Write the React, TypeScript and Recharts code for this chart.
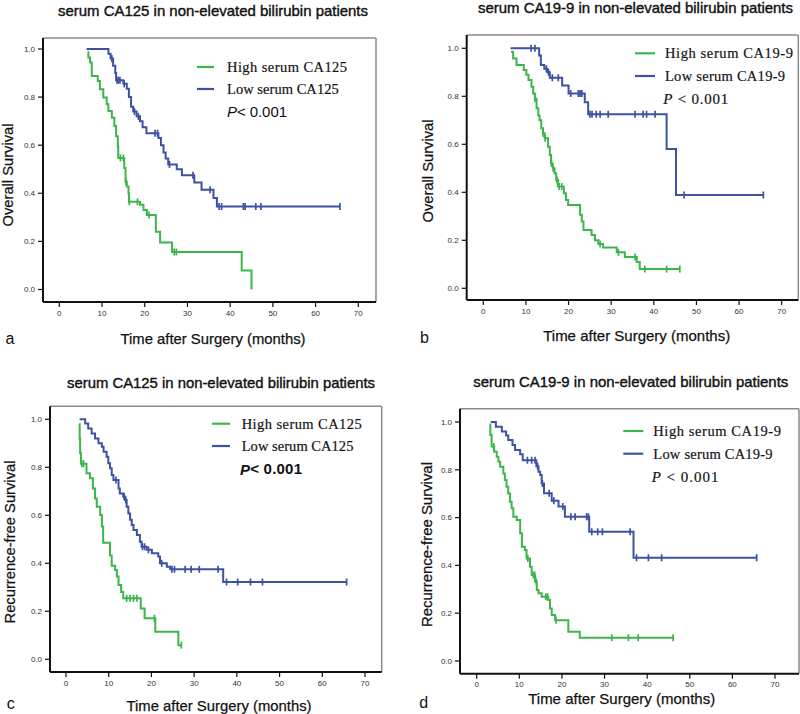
import React from 'react';
import { LineChart, Line, XAxis, YAxis, ReferenceLine } from 'recharts';

const GREEN = '#3cb54a';
const BLUE = '#3d52a2';
const SANS = '"Liberation Sans", Arial, sans-serif';
const SERIF = '"Liberation Serif", "Times New Roman", serif';

const xTicks = [0, 10, 20, 30, 40, 50, 60, 70];
const yTicks = [0, 0.2, 0.4, 0.6, 0.8, 1.0];

// ---- Panel a: overall survival, CA125 ----
const aHighTime = [6.6, 6.8, 7.2, 7.6, 9.0, 9.5, 10.3, 11.1, 11.5, 12.3, 12.9, 13.3, 13.7, 13.8, 15.2, 15.5, 15.8, 16.2, 16.3, 18.9, 19.7, 20.5, 22.6, 23.6, 26.4, 42.7, 45.0];
const aHighSurv = [0.986, 0.965, 0.944, 0.888, 0.867, 0.833, 0.798, 0.77, 0.742, 0.714, 0.68, 0.637, 0.595, 0.547, 0.505, 0.449, 0.428, 0.4, 0.365, 0.352, 0.331, 0.31, 0.24, 0.195, 0.156, 0.079, 0.0];
const aHighCensor = [14.3, 15.0, 15.6, 16.4, 18.3, 21.0, 26.9, 27.4];
const aLowTime = [6.4, 11.5, 12.0, 12.6, 13.1, 13.3, 15.0, 15.8, 16.3, 16.8, 17.3, 18.1, 18.9, 19.5, 20.4, 23.2, 23.8, 24.4, 24.9, 25.5, 27.5, 28.7, 31.6, 33.3, 36.1, 36.9];
const aLowSurv = [1.0, 0.98, 0.96, 0.93, 0.9, 0.87, 0.855, 0.835, 0.8, 0.76, 0.74, 0.72, 0.7, 0.675, 0.65, 0.63, 0.6, 0.57, 0.545, 0.52, 0.5, 0.475, 0.445, 0.415, 0.38, 0.345];
const aLowCensor = [12.3, 13.5, 13.8, 14.2, 15.2, 17.6, 18.5, 22.4, 23.0, 25.8, 31.3, 35.3, 37.4, 38.0, 43.1, 43.5, 46.0, 47.2, 65.7];

// ---- Panel b: overall survival, CA19-9 ----
const bHighTime = [6.5, 7.0, 7.8, 9.5, 10.1, 10.6, 11.3, 11.7, 12.1, 12.5, 12.9, 13.2, 13.6, 14.0, 14.4, 15.2, 15.6, 15.9, 16.3, 16.7, 17.1, 17.5, 18.9, 19.4, 19.9, 22.7, 23.1, 23.5, 25.4, 26.2, 27.0, 28.1, 31.3, 33.2, 36.0, 36.7];
const bHighSurv = [0.986, 0.958, 0.93, 0.91, 0.89, 0.868, 0.84, 0.812, 0.79, 0.75, 0.72, 0.7, 0.667, 0.646, 0.625, 0.59, 0.555, 0.52, 0.5, 0.479, 0.451, 0.424, 0.396, 0.368, 0.347, 0.306, 0.278, 0.243, 0.222, 0.2, 0.185, 0.17, 0.15, 0.13, 0.11, 0.08];
const bHighCensor = [12.1, 14.0, 14.5, 16.0, 16.4, 17.3, 17.8, 18.4, 27.4, 31.7, 35.6, 37.9, 43.0, 46.1];
const bLowTime = [6.4, 13.1, 13.5, 14.3, 15.0, 15.6, 18.5, 20.0, 23.8, 24.6, 43.0, 45.2];
const bLowSurv = [1.0, 0.97, 0.93, 0.915, 0.9, 0.877, 0.845, 0.812, 0.775, 0.725, 0.58, 0.389];
const bLowCensor = [11.2, 12.1, 14.8, 15.3, 16.2, 17.6, 20.5, 22.3, 22.7, 23.1, 25.0, 25.5, 26.5, 27.4, 29.3, 35.6, 37.5, 38.3, 40.3, 47.1, 65.7];

// ---- Panel c: recurrence-free survival, CA125 ----
const cHighTime = [3.1, 3.2, 3.3, 3.5, 4.8, 5.6, 6.3, 6.8, 7.2, 8.0, 8.4, 8.7, 10.3, 10.7, 11.5, 11.9, 12.3, 12.9, 13.4, 17.5, 18.4, 20.9, 26.3];
const cHighSurv = [0.98, 0.92, 0.86, 0.815, 0.775, 0.754, 0.712, 0.67, 0.636, 0.601, 0.553, 0.486, 0.433, 0.39, 0.372, 0.345, 0.31, 0.28, 0.254, 0.212, 0.171, 0.115, 0.059];
const cHighCensor = [3.7, 4.1, 14.2, 15.0, 15.8, 16.6, 20.7, 27.0];
const cLowTime = [3.2, 4.5, 5.2, 6.0, 6.8, 7.6, 8.4, 8.8, 9.5, 9.9, 10.3, 10.7, 11.1, 12.3, 12.6, 13.4, 13.8, 14.2, 14.6, 15.0, 15.4, 15.8, 16.6, 17.3, 17.7, 18.9, 20.1, 21.6, 22.0, 23.6, 24.4, 36.8];
const cLowSurv = [1.0, 0.983, 0.962, 0.941, 0.92, 0.9, 0.886, 0.865, 0.844, 0.817, 0.796, 0.768, 0.747, 0.712, 0.691, 0.678, 0.664, 0.636, 0.608, 0.581, 0.56, 0.539, 0.518, 0.49, 0.469, 0.456, 0.442, 0.428, 0.4, 0.386, 0.375, 0.322];
const cLowCensor = [11.7, 13.6, 14.0, 17.9, 18.4, 19.3, 22.4, 24.8, 25.4, 27.9, 29.3, 31.2, 35.6, 37.6, 40.2, 43.2, 46.0, 65.7];

// ---- Panel d: recurrence-free survival, CA19-9 ----
const dHighTime = [3.0, 3.2, 3.5, 4.1, 4.7, 5.1, 5.5, 6.25, 6.6, 7.0, 7.4, 7.8, 8.2, 8.6, 9.4, 10.2, 10.6, 11.3, 11.7, 12.5, 12.9, 13.7, 14.1, 14.5, 15.25, 16.8, 17.2, 17.6, 18.4, 21.5, 24.2];
const dHighSurv = [0.99, 0.946, 0.897, 0.876, 0.855, 0.834, 0.813, 0.785, 0.757, 0.729, 0.701, 0.666, 0.639, 0.604, 0.59, 0.534, 0.478, 0.464, 0.429, 0.394, 0.36, 0.332, 0.297, 0.283, 0.269, 0.255, 0.22, 0.192, 0.171, 0.122, 0.097];
const dHighCensor = [4.0, 12.0, 13.3, 13.6, 14.0, 16.2, 16.6, 18.6, 31.7, 35.6, 37.9, 46.1];
const dLowTime = [3.3, 4.5, 5.9, 6.9, 7.4, 8.4, 9.0, 10.2, 10.8, 14.0, 14.5, 14.9, 15.25, 15.8, 17.6, 19.2, 20.7, 26.4, 36.8];
const dLowSurv = [1.0, 0.98, 0.96, 0.943, 0.925, 0.904, 0.883, 0.865, 0.84, 0.815, 0.792, 0.778, 0.743, 0.702, 0.67, 0.646, 0.604, 0.541, 0.432];
const dLowCensor = [11.9, 12.9, 13.7, 14.3, 15.4, 17.0, 18.1, 20.2, 22.1, 23.1, 25.8, 26.2, 27.0, 28.4, 29.5, 36.0, 37.5, 40.3, 43.4, 65.7];

// ---- Text ----
const titleCA125 = 'serum CA125 in non-elevated bilirubin patients';
const titleCA199 = 'serum CA19-9 in non-elevated bilirubin patients';
const xLabel = 'Time after Surgery (months)';
const yLabelOS = 'Overall Survival';
const yLabelRFS = 'Recurrence-free Survival';
const legendCA125 = ['High serum CA125', 'Low serum CA125'];
const legendCA199 = ['High serum CA19-9', 'Low serum CA19-9'];

type Pt = { t: number; s: number; c?: boolean };

function buildCurve(times: number[], surv: number[], censor: number[]): Pt[] {
  const pts: Pt[] = times.map((t, i) => ({ t, s: surv[i] }));
  censor.forEach((c) => {
    let s = surv[0];
    for (let i = 0; i < times.length; i++) if (times[i] <= c) s = surv[i];
    pts.push({ t: c, s, c: true });
  });
  pts.sort((p, q) => p.t - q.t || (p.c ? 1 : 0) - (q.c ? 1 : 0));
  return pts;
}

type Frame = { l: number; t: number; r: number; b: number };
type PanelSpec = {
  key: string;
  frame: Frame;
  x0: number;
  x70: number;
  y0: number;
  y1: number;
  high: Pt[];
  low: Pt[];
};

const panels: PanelSpec[] = [
  { key: 'a', frame: { l: 43, t: 38, r: 376, b: 302 }, x0: 59.3, x70: 358.3, y0: 289.5, y1: 49,
    high: buildCurve(aHighTime, aHighSurv, aHighCensor), low: buildCurve(aLowTime, aLowSurv, aLowCensor) },
  { key: 'b', frame: { l: 466.7, t: 35, r: 798.3, b: 300 }, x0: 483.3, x70: 781.7, y0: 288.3, y1: 48.3,
    high: buildCurve(bHighTime, bHighSurv, bHighCensor), low: buildCurve(bLowTime, bLowSurv, bLowCensor) },
  { key: 'c', frame: { l: 50, t: 406.3, r: 381.7, b: 672 }, x0: 66, x70: 365, y0: 659.3, y1: 419.3,
    high: buildCurve(cHighTime, cHighSurv, cHighCensor), low: buildCurve(cLowTime, cLowSurv, cLowCensor) },
  { key: 'd', frame: { l: 460, t: 408.7, r: 799, b: 673.7 }, x0: 476.7, x70: 775, y0: 661, y1: 422,
    high: buildCurve(dHighTime, dHighSurv, dHighCensor), low: buildCurve(dLowTime, dLowSurv, dLowCensor) },
];

const W = 800;
const H = 714;
const YW = 30;
const XH = 30;

function censorDot(color: string) {
  return (props: any) => {
    const { cx, cy, payload, index } = props;
    if (!payload || !payload.c || cx == null || cy == null) return <g key={'n' + index} />;
    return (
      <line key={'c' + index} x1={cx} x2={cx} y1={cy - 3.5} y2={cy + 3.5} stroke={color} strokeWidth={1.7} />
    );
  };
}

function Panel({ p }: { p: PanelSpec }) {
  const pxX = (p.x70 - p.x0) / 70;
  const xmin = (p.frame.l - p.x0) / pxX;
  const xmax = (p.frame.r - p.x0) / pxX;
  const pxY = p.y0 - p.y1;
  const ymax = (p.y0 - p.frame.t) / pxY;
  const ymin = (p.y0 - p.frame.b) / pxY;
  const margin = {
    top: p.frame.t,
    left: p.frame.l - YW,
    right: W - p.frame.r,
    bottom: H - p.frame.b - XH,
  };
  const tickStyle = { fontSize: 8, fill: '#333', fontFamily: SANS };
  return (
    <div style={{ position: 'absolute', left: 0, top: 0 }}>
      <LineChart width={W} height={H} margin={margin}>
        <XAxis
          type="number"
          dataKey="t"
          domain={[xmin, xmax]}
          ticks={xTicks}
          allowDataOverflow
          height={XH}
          tickSize={5}
          tickMargin={3}
          tick={tickStyle}
          axisLine={{ stroke: '#111', strokeWidth: 2 }}
          tickLine={{ stroke: '#111', strokeWidth: 1.2 }}
          interval={0}
        />
        <YAxis
          type="number"
          dataKey="s"
          domain={[ymin, ymax]}
          ticks={yTicks}
          allowDataOverflow
          width={YW}
          tickSize={5}
          tickMargin={3}
          tick={tickStyle}
          tickFormatter={(v: number) => v.toFixed(1)}
          axisLine={{ stroke: '#111', strokeWidth: 2 }}
          tickLine={{ stroke: '#111', strokeWidth: 1.2 }}
          interval={0}
        />
        <ReferenceLine y={ymax} stroke="#8a8a8a" strokeWidth={1.5} ifOverflow="extendDomain" />
        <ReferenceLine x={xmax} stroke="#8a8a8a" strokeWidth={1.5} ifOverflow="extendDomain" />
        <Line
          data={p.high}
          dataKey="s"
          type="stepAfter"
          stroke={GREEN}
          strokeWidth={2}
          dot={censorDot(GREEN)}
          activeDot={false}
          isAnimationActive={false}
        />
        <Line
          data={p.low}
          dataKey="s"
          type="stepAfter"
          stroke={BLUE}
          strokeWidth={2}
          dot={censorDot(BLUE)}
          activeDot={false}
          isAnimationActive={false}
        />
      </LineChart>
    </div>
  );
}

type TextSpec = {
  title: string; tx: number; ty: number; tw: number;
  ylab: string; yx: number; yy: number; yw: number;
  xx: number; xy: number; xw: number;
  letter: string; lx: number; ly: number;
  legend: string[]; lineX1: number; lineX2: number; legY: number[]; legX: number; legW: number[];
  pStyle: 'sans' | 'serif' | 'bold'; px: number; py: number; pw: number;
};

const texts: TextSpec[] = [
  { title: titleCA125, tx: 213, ty: 10, tw: 310, ylab: yLabelOS, yx: 7, yy: 175, yw: 103,
    xx: 213, xy: 338, xw: 185, letter: 'a', lx: 10, ly: 338,
    legend: legendCA125, lineX1: 197, lineX2: 214, legY: [67, 89], legX: 227, legW: [120, 111.7],
    pStyle: 'sans', px: 227, py: 111, pw: 60 },
  { title: titleCA199, tx: 635.5, ty: 7.5, tw: 315, ylab: yLabelOS, yx: 427, yy: 171, yw: 103,
    xx: 636.7, xy: 335, xw: 187, letter: 'b', lx: 424.5, ly: 337,
    legend: legendCA199, lineX1: 635, lineX2: 655, legY: [53.3, 76], legX: 665, legW: [128, 120],
    pStyle: 'serif', px: 663.3, py: 99, pw: 65 },
  { title: titleCA125, tx: 221, ty: 382, tw: 308, ylab: yLabelRFS, yx: 9, yy: 542, yw: 163,
    xx: 219, xy: 705.3, xw: 185, letter: 'c', lx: 10.7, ly: 703.7,
    legend: legendCA125, lineX1: 212, lineX2: 230, legY: [423.7, 446], legX: 241.7, legW: [120, 111.7],
    pStyle: 'bold', px: 240, py: 468.7, pw: 62 },
  { title: titleCA199, tx: 630.8, ty: 381, tw: 315, ylab: yLabelRFS, yx: 426.7, yy: 544.5, yw: 165,
    xx: 621.7, xy: 698.7, xw: 187, letter: 'd', lx: 423.8, ly: 702,
    legend: legendCA199, lineX1: 623.3, lineX2: 643.3, legY: [431, 453.7], legX: 653.3, legW: [127.7, 119.3],
    pStyle: 'serif', px: 651.7, py: 477, pw: 66.7 },
];

function Overlay() {
  const colors = [GREEN, BLUE];
  const heavy = { stroke: '#111', strokeWidth: 0.4 };
  return (
    <svg width={W} height={H} style={{ position: 'absolute', left: 0, top: 0, pointerEvents: 'none' }}>
      {texts.map((s, i) => (
        <g key={i} fill="#111">
          <text x={s.tx} y={s.ty} textAnchor="middle" dominantBaseline="central" fontFamily={SANS}
            fontSize={15} textLength={s.tw} lengthAdjust="spacingAndGlyphs" {...heavy}>{s.title}</text>
          <text x={s.yx} y={s.yy} textAnchor="middle" dominantBaseline="central" fontFamily={SANS}
            fontSize={15} textLength={s.yw} lengthAdjust="spacingAndGlyphs" stroke="#111" strokeWidth={0.25}
            transform={`rotate(-90 ${s.yx} ${s.yy})`}>{s.ylab}</text>
          <text x={s.xx} y={s.xy} textAnchor="middle" dominantBaseline="central" fontFamily={SANS}
            fontSize={15} textLength={s.xw} lengthAdjust="spacingAndGlyphs" stroke="#111" strokeWidth={0.25}>{xLabel}</text>
          <text x={s.lx} y={s.ly} textAnchor="middle" dominantBaseline="central" fontFamily={SANS}
            fontSize={16}>{s.letter}</text>
          {s.legend.map((lab, j) => (
            <g key={j}>
              <line x1={s.lineX1} x2={s.lineX2} y1={s.legY[j]} y2={s.legY[j]} stroke={colors[j]} strokeWidth={2.2} />
              <text x={s.legX} y={s.legY[j]} dominantBaseline="central" fontFamily={SERIF} fontSize={14.5}
                textLength={s.legW[j]} lengthAdjust="spacing" stroke="#222" strokeWidth={0.2}>{lab}</text>
            </g>
          ))}
          {s.pStyle === 'serif' ? (
            <text x={s.px} y={s.py} dominantBaseline="central" fontFamily={SERIF} fontSize={15}
              textLength={s.pw} lengthAdjust="spacing" stroke="#222" strokeWidth={0.2}>
              <tspan fontStyle="italic">P</tspan> &lt; 0.001
            </text>
          ) : (
            <text x={s.px} y={s.py} dominantBaseline="central" fontFamily={SANS} fontSize={15}
              fontWeight={s.pStyle === 'bold' ? 'bold' : 'normal'} textLength={s.pw} lengthAdjust="spacing">
              <tspan fontStyle="italic">P</tspan>&lt; 0.001
            </text>
          )}
        </g>
      ))}
    </svg>
  );
}

export default function App() {
  return (
    <div style={{ position: 'absolute', left: 0, top: 0, width: W, height: H, background: '#fff', overflow: 'hidden' }}>
      {panels.map((p) => (
        <Panel key={p.key} p={p} />
      ))}
      <Overlay />
    </div>
  );
}
